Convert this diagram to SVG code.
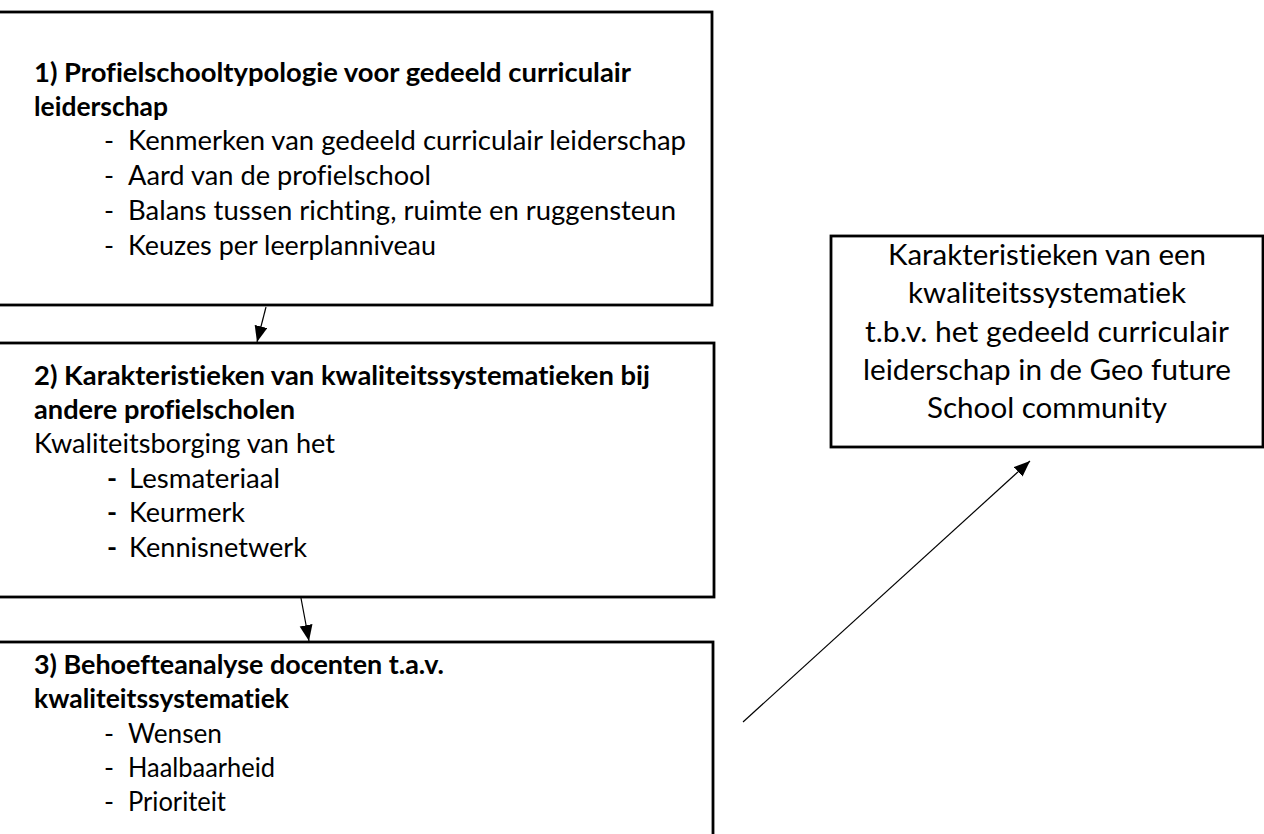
<svg xmlns="http://www.w3.org/2000/svg" width="1264" height="834" viewBox="0 0 1264 834">
  <style>
    .box { fill: #ffffff; stroke: #000000; stroke-width: 2.8; }
    .t { font-family: Lato, "Open Sans", "Liberation Sans", sans-serif; font-size: 27px; fill: #000000; font-variant-ligatures: none; }
    .b { font-weight: bold; }
    .big { font-size: 29.5px; text-anchor: middle; }
    .link { fill: none; stroke: #000000; stroke-width: 1.2; }
  </style>
  <defs>
    <marker id="head" markerUnits="userSpaceOnUse" markerWidth="18" markerHeight="14" refX="16" refY="6.5" orient="auto">
      <path d="M0,0 L16,6.5 L0,13 z" fill="#000000"/>
    </marker>
  </defs>
  <rect width="1264" height="834" fill="#ffffff"/>

  <!-- step 1 -->
  <g id="step1">
    <rect class="box" x="-3" y="12" width="715" height="293"/>
    <text class="t b" x="34" y="82" textLength="597" lengthAdjust="spacingAndGlyphs">1) Profielschooltypologie voor gedeeld curriculair</text>
    <text class="t b" x="34" y="116" textLength="134" lengthAdjust="spacingAndGlyphs">leiderschap</text>
    <text class="t" x="104" y="150">-</text>
    <text class="t" x="128" y="150" textLength="558" lengthAdjust="spacingAndGlyphs">Kenmerken van gedeeld curriculair leiderschap</text>
    <text class="t" x="104" y="185">-</text>
    <text class="t" x="128" y="185" textLength="303" lengthAdjust="spacingAndGlyphs">Aard van de profielschool</text>
    <text class="t" x="104" y="220">-</text>
    <text class="t" x="128" y="220" textLength="548" lengthAdjust="spacingAndGlyphs">Balans tussen richting, ruimte en ruggensteun</text>
    <text class="t" x="104" y="255">-</text>
    <text class="t" x="128" y="255" textLength="308" lengthAdjust="spacingAndGlyphs">Keuzes per leerplanniveau</text>
  </g>

  <!-- step 2 -->
  <g id="step2">
    <rect class="box" x="-3" y="343" width="717" height="254"/>
    <text class="t b" x="34" y="385" textLength="616" lengthAdjust="spacingAndGlyphs">2) Karakteristieken van kwaliteitssystematieken bij</text>
    <text class="t b" x="34" y="419" textLength="261" lengthAdjust="spacingAndGlyphs">andere profielscholen</text>
    <text class="t" x="34" y="453" textLength="301" lengthAdjust="spacingAndGlyphs">Kwaliteitsborging van het</text>
    <text class="t b" x="107" y="488">-</text>
    <text class="t" x="129" y="488" textLength="151" lengthAdjust="spacingAndGlyphs">Lesmateriaal</text>
    <text class="t b" x="107" y="522">-</text>
    <text class="t" x="129" y="522" textLength="116" lengthAdjust="spacingAndGlyphs">Keurmerk</text>
    <text class="t b" x="107" y="557">-</text>
    <text class="t" x="129" y="557" textLength="178" lengthAdjust="spacingAndGlyphs">Kennisnetwerk</text>
  </g>

  <!-- step 3 -->
  <g id="step3">
    <rect class="box" x="-3" y="642" width="716" height="210"/>
    <text class="t b" x="34" y="674" textLength="410" lengthAdjust="spacingAndGlyphs">3) Behoefteanalyse docenten t.a.v.</text>
    <text class="t b" x="34" y="708" textLength="255" lengthAdjust="spacingAndGlyphs">kwaliteitssystematiek</text>
    <text class="t" x="104" y="743">-</text>
    <text class="t" x="128" y="743" textLength="94" lengthAdjust="spacingAndGlyphs">Wensen</text>
    <text class="t" x="104" y="777">-</text>
    <text class="t" x="128" y="777" textLength="147" lengthAdjust="spacingAndGlyphs">Haalbaarheid</text>
    <text class="t" x="104" y="811">-</text>
    <text class="t" x="128" y="811" textLength="98" lengthAdjust="spacingAndGlyphs">Prioriteit</text>
  </g>

  <!-- outcome -->
  <g id="outcome">
    <rect class="box" x="831" y="236" width="432" height="211"/>
    <text class="t big" x="1047" y="265" textLength="318" lengthAdjust="spacingAndGlyphs">Karakteristieken van een</text>
    <text class="t big" x="1047" y="303" textLength="278" lengthAdjust="spacingAndGlyphs">kwaliteitssystematiek</text>
    <text class="t big" x="1047" y="342" textLength="364" lengthAdjust="spacingAndGlyphs">t.b.v. het gedeeld curriculair</text>
    <text class="t big" x="1047" y="380" textLength="368" lengthAdjust="spacingAndGlyphs">leiderschap in de Geo future</text>
    <text class="t big" x="1047" y="418" textLength="240" lengthAdjust="spacingAndGlyphs">School community</text>
  </g>

  <!-- connectors -->
  <g id="connectors">
    <line class="link" x1="266" y1="307" x2="257" y2="342" marker-end="url(#head)"/>
    <line class="link" x1="301" y1="598" x2="309" y2="641" marker-end="url(#head)"/>
    <line class="link" x1="743" y1="722" x2="1030" y2="461" marker-end="url(#head)"/>
  </g>
</svg>
